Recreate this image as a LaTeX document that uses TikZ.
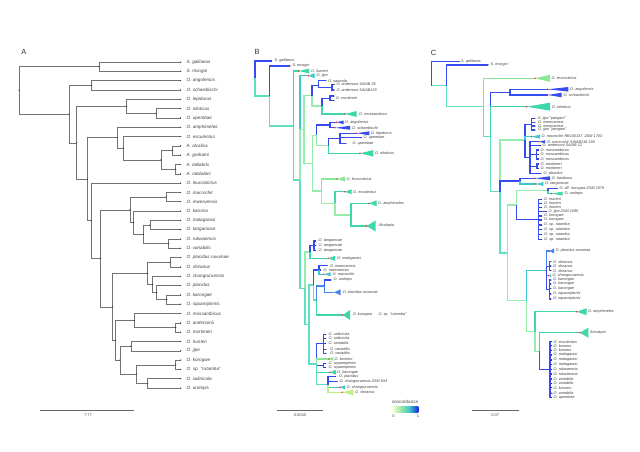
\documentclass[tikz,border=0pt]{standalone}
\usepackage{fontspec}
\setmainfont{Liberation Sans}
\definecolor{cB}{RGB}{55,75,242}
\definecolor{cM}{RGB}{70,130,232}
\definecolor{cC}{RGB}{60,200,210}
\definecolor{cT}{RGB}{95,222,192}
\definecolor{cG}{RGB}{150,236,170}
\definecolor{cY}{RGB}{200,240,150}
\definecolor{triT}{RGB}{60,215,170}
\definecolor{triC}{RGB}{60,200,205}
\definecolor{triG}{RGB}{140,232,150}
\definecolor{triY}{RGB}{190,240,130}
\definecolor{rdc}{RGB}{228,60,40}
\definecolor{lg0}{RGB}{255,255,217}
\definecolor{lg1}{RGB}{160,230,170}
\definecolor{lg2}{RGB}{60,200,200}
\definecolor{lg3}{RGB}{30,40,225}
\tikzset{
 abr/.style={draw=black!55, line width=0.45pt},
 br/.style={line width=1.1pt},
 la/.style={anchor=west, inner sep=0pt, font=\fontsize{4.6}{5}\selectfont\itshape, text=black!75},
 lb/.style={anchor=west, inner sep=0pt, font=\fontsize{3.8}{4}\selectfont\itshape, text=black!75},
 reddot/.style={fill=rdc},
 tipdot/.style={fill=black!85},
 panel/.style={font=\fontsize{7.5}{8}\selectfont, text=black!80, inner sep=0pt},
 sc/.style={draw=black!60, line width=0.6pt},
 scl/.style={font=\fontsize{4}{4}\selectfont, text=black!70, inner sep=0pt},
}
% internal node: color, parent, name, x, y
\newcommand\Inode[5]{\coordinate (#3) at (#4,#5); \draw[br,draw=#1] (#2) |- (#3);}
% tip without label
\newcommand\Tip[5]{\coordinate (#3) at (#4,#5); \draw[br,draw=#1] (#2) |- (#3); \fill[tipdot] (#3) circle (0.5pt);}
% leaf: color, parent, name, x, y, labelx, text
\newcommand\Leaf[7]{\Tip{#1}{#2}{#3}{#4}{#5}\node[lb] (#3l) at (#6,#5) {#7};}
% collapsed clade: color, parent, name, x, y, x2, halfheight, labelx, text
\newcommand\Clade[9]{\coordinate (#3) at (#4,#5); \draw[br,draw=#1] (#2) |- (#3);
 \fill[#1] (#3) -- (#6,{#5-#7}) -- (#6,{#5+#7}) -- cycle;
 \fill[reddot] (#3) circle (0.85pt);
 \node[lb] (#3l) at (#8,#5) {#9};}
\newcommand\CladeN[9]{\coordinate (#3) at (#4,#5); \draw[br,draw=#1] (#2) |- (#3);
 \fill[#1] (#3) -- (#6,{#5-#7}) -- (#6,{#5+#7}) -- cycle;
 \node[lb] (#3l) at (#8,#5) {#9};}
\begin{document}
\begin{tikzpicture}[x=1pt,y=-1pt]
\fill[white] (0,0) rectangle (640,452);
\useasboundingbox (0,0) rectangle (640,452);

% ================= Panel A =================
\node[panel] (pA) at (24,52) {A};
\foreach \nm [count=\i] in {S. galilaeus, S. mvogoi, O. angolensis, O. schwebischi, O. lepidurus, O. niloticus, O. upembae, O. amphimelas, O. esculentus, A. alcalica, A. grahami, A. latilabris, A. ndalalani, O. leucostictus, O. macrochir, O. mweruensis, O. karomo, O. malagarasi, O. tanganicae, O. rukwaensis, O. variabilis, O. placidus ruvumae, O. shiranus, O. chungruruensis, O. placidus, O. karongae, O. squamipinnis, O. mossambicus, O. andersonii, O. mortimeri, O. hunteri, O. jipe, O. korogwe, O. sp. "rutamba", O. salinicola, O. urolepis} {
  \coordinate (at\i) at (180.7,{62+(\i-1)*9.314});
  \node[la] (al\i) at (186.5,{62+(\i-1)*9.314}) {\nm};
}
\coordinate (aroot) at (19,90.3);
\coordinate (asg) at (99,66.65);
\coordinate (ao) at (69,114);
\coordinate (aans) at (91.7,85.25);
\coordinate (ax) at (76.7,142.75);
\coordinate (alep) at (126.7,106.3);
\coordinate (anu) at (156,113.25);
\coordinate (ay) at (87.3,179.2);
\coordinate (aamp) at (117.3,137.7);
\coordinate (aesc) at (123.3,148.15);
\coordinate (aalc) at (161,159.8);
\coordinate (aag) at (172.7,150.45);
\coordinate (aln) at (175.7,169.15);
\coordinate (alb) at (91,220.7);
\coordinate (abig) at (100.7,258.3);
\coordinate (amk) at (130,209.85);
\coordinate (amm) at (166,197.05);
\coordinate (akr) at (133.3,222.65);
\coordinate (amr) at (143.3,234.3);
\coordinate (amt) at (150,225);
\coordinate (arv) at (168.7,243.65);
\coordinate (apm) at (112.7,306.8);
\coordinate (apr) at (147.3,273.3);
\coordinate (aps) at (170,262.25);
\coordinate (acp) at (152.7,284.35);
\coordinate (apk) at (156.7,292.5);
\coordinate (aks) at (166.7,299.55);
\coordinate (amh) at (115.3,340.3);
\coordinate (amo) at (134.3,320.5);
\coordinate (aam) at (175.7,327.45);
\coordinate (ahk) at (120,360.05);
\coordinate (ahj) at (131,346.05);
\coordinate (akl) at (136.7,374.05);
\coordinate (akru) at (175.7,364.75);
\coordinate (asu) at (147.7,383.35);
\foreach \p/\c in {aroot/asg, aroot/ao, asg/at1, asg/at2, ao/aans, ao/ax, aans/at3, aans/at4, ax/alep, ax/ay, alep/at5, alep/anu, anu/at6, anu/at7, ay/aamp, ay/alb, aamp/at8, aamp/aesc, aesc/at9, aesc/aalc, aalc/aag, aalc/aln, aag/at10, aag/at11, aln/at12, aln/at13, alb/at14, alb/abig, abig/amk, abig/apm, amk/amm, amk/akr, amm/at15, amm/at16, akr/at17, akr/amr, amr/amt, amr/arv, amt/at18, amt/at19, arv/at20, arv/at21, apm/apr, apm/amh, apr/aps, apr/acp, aps/at22, aps/at23, acp/at24, acp/apk, apk/at25, apk/aks, aks/at26, aks/at27, amh/amo, amh/ahk, amo/at28, amo/aam, aam/at29, aam/at30, ahk/ahj, ahk/akl, ahj/at31, ahj/at32, akl/akru, akl/asu, akru/at33, akru/at34, asu/at35, asu/at36}
  {\draw[abr] (\p) |- (\c);}
\foreach \c in {aroot,asg,ao,aans,ax,alep,anu,ay,aamp,aesc,aalc,aag,aln,alb,abig,amk,amm,akr,amr,amt,arv,apm,apr,aps,acp,apk,aks,amh,amo,aam,ahk,ahj,akl,akru,asu}
  {\fill[black!80] (\c) circle (0.65pt);}
\foreach \i in {1,...,36} {\fill[black!80] (at\i) circle (0.65pt);}
\coordinate (asc1) at (40,410.5);
\coordinate (asc2) at (134.3,410.5);
\draw[sc] (asc1) -- (asc2);
\node[scl] (ascl) at (88,415.5) {7.77};

% ================= Panel B =================
\node[panel] (pB) at (257,52) {B};
\coordinate (bR) at (255,78.5);
\Leaf{cB}{bR}{bgal}{271.7}{61}{274.5}{S. galilaeus}
\Inode{cT}{bR}{bN2}{269.3}{96}
\Leaf{cB}{bN2}{bmvo}{290}{66}{292.3}{S. mvogoi}
\Inode{cT}{bN2}{bO}{293.3}{126}
\Clade{triT}{bO}{bhun}{299}{71}{309}{2.5}{311}{O. hunteri}
\Inode{cT}{bO}{bN1}{300}{180}
\Clade{triC}{bN1}{bjip}{308.5}{75.7}{314.5}{2.5}{316.5}{O. jipe}
\Inode{cG}{bN1}{bNb}{304}{129.4}
\Inode{cG}{bNb}{bNsm}{312}{95.6}
\Inode{cB}{bNsm}{bNsx}{318.3}{85.3}
\Leaf{cB}{bNsx}{bsax}{326}{80.7}{328}{O. saxicola}
\Inode{cB}{bNsx}{bNand}{332}{87.1}
\Leaf{cB}{bNand}{band1}{334.3}{84.3}{336.3}{O. andersoni SAIAB 05}
\Leaf{cB}{bNand}{band2}{334.3}{90}{336.3}{O. andersoni SAIAB133}
\Inode{cG}{bNsm}{bNsm2}{322}{106}
\Inode{cB}{bNsm2}{bNmor}{330}{98.3}
\Tip{cB}{bNmor}{bmor1}{334}{96}
\Tip{cB}{bNmor}{bmor2}{334}{100.6}
\node[lb] (bmorl) at (336,98.3) {O. mortimeri};
\Clade{triT}{bNsm2}{bmos}{345}{114}{356.7}{3}{359}{O. mossambicus}
\Inode{cG}{bNb}{bNl1}{312.7}{163.2}
\Inode{cG}{bNl1}{bNang}{316.7}{135.4}
\Inode{cB}{bNang}{bNas}{330}{125}
\Clade{cB}{bNas}{bang}{336.7}{122.3}{343.5}{1.8}{345}{O. angolensis}
\Clade{cB}{bNas}{bsch}{335}{127.8}{350}{2}{352}{O. schwebischi}
\Inode{cG}{bNang}{bNnil}{328.3}{145.8}
\Inode{cB}{bNnil}{bNlep}{340}{138.3}
\Clade{cB}{bNlep}{blep}{356.7}{133.3}{369.3}{2}{371}{O. lepidurus}
\Leaf{cB}{bNlep}{bup1}{361.7}{137.7}{363.5}{O. upembae}
\Leaf{cB}{bNlep}{bup2}{346}{143.3}{352.5}{O. upembae}
\Clade{triT}{bNnil}{bnil}{360}{153.3}{373.3}{3.3}{375}{O. niloticus}
\Inode{cG}{bNl1}{bNleu}{321.7}{191}
\Clade{triG}{bNleu}{bleu}{337.3}{179}{345}{2.5}{346.5}{O. leucostictus}
\Inode{cG}{bNleu}{bNesc}{335}{203.3}
\Clade{triT}{bNesc}{besc}{344.7}{191.7}{351.7}{2.5}{353}{O. esculentus}
\Inode{cG}{bNesc}{bNamph}{351}{215}
\Clade{triT}{bNamph}{bamp}{369.3}{203.3}{376.7}{3}{378}{O. amphimelas}
\Clade{triT}{bNamph}{balc}{366.7}{226}{375.7}{5.5}{378.3}{Alcolapia}
\Inode{cT}{bN1}{bN3}{305}{288.3}
\Inode{cG}{bN3}{bNtang}{310}{252}
\Inode{cB}{bNtang}{bNtg}{314}{245.9}
\Leaf{cB}{bNtg}{btg1}{315.7}{241}{318.5}{O. tanganicae}
\Leaf{cB}{bNtg}{btg2}{315.7}{245.7}{318.5}{O. tanganicae}
\Leaf{cB}{bNtg}{btg3}{315.7}{250.7}{318.5}{O. tanganicae}
\Clade{triT}{bNtang}{bmal}{328.3}{258.3}{335}{2.5}{337}{O. malagarasi}
\Inode{cT}{bN3}{bNl2}{309}{324.5}
\Inode{cT}{bNl2}{bNmid}{313.3}{285}
\Inode{cB}{bNmid}{bNmwe}{319}{270}
\Leaf{cB}{bNmwe}{bmw1}{327.3}{265.7}{330}{O. mweruensis}
\Leaf{cB}{bNmwe}{bmw2}{320.7}{270}{323.5}{O. mweruensis}
\Clade{triC}{bNmwe}{bmac}{324}{274.3}{330.7}{2}{332.5}{O. macrochir}
\Inode{cT}{bNmid}{bNkr}{316.7}{300}
\Inode{cM}{bNkr}{bNuro}{324.3}{286}
\Leaf{cB}{bNuro}{buro}{331}{280}{333.5}{O. urolepis}
\CladeN{cM}{bNuro}{bprv}{334}{292.3}{340.7}{3}{342.7}{O. placidus ruvumae}
\Clade{triT}{bNkr}{bkor}{342.7}{315}{350}{5}{352.7}{O. korogwe}
\node[lb] (bkorl2) at (378.3,315) {O. sp. "rutamba"};
\Inode{cT}{bNl2}{bNbot}{316.7}{364}
\Inode{cB}{bNbot}{bNsal}{323.3}{343.8}
\Leaf{cB}{bNsal}{bsa1}{325.5}{334.3}{328.5}{O. salinicola}
\Leaf{cB}{bNsal}{bsa2}{325.5}{338.3}{328.5}{O. salinicola}
\Leaf{cB}{bNsal}{bva1}{325.5}{343.3}{328.5}{O. variabilis}
\Leaf{cB}{bNsal}{bva2}{326}{349.3}{330}{O. variabilis}
\Leaf{cB}{bNsal}{bva3}{326}{353.3}{330}{O. variabilis}
\Clade{triG}{bNbot}{bkar}{329}{359}{333.3}{2}{334.5}{O. karomo}
\Inode{cB}{bNbot}{bNsq}{323.3}{365.5}
\Leaf{cB}{bNsq}{bsq1}{325.5}{363.3}{328.5}{O. squamipinnis}
\Leaf{cB}{bNsq}{bsq2}{325.5}{367.7}{328.5}{O. squamipinnis}
\Clade{triT}{bNbot}{bkrg}{330}{372.3}{336}{2.5}{337}{O. karongae}
\Inode{cT}{bNbot}{bNpl}{328}{384.5}
\Leaf{cB}{bNpl}{bpla}{335.7}{376.7}{339}{O. placidus}
\Leaf{cB}{bNpl}{bchz}{337.3}{381.7}{339.5}{O. chungruruensis ZSM 934}
\Clade{triC}{bNpl}{bchu}{340}{387.3}{345}{2}{346.5}{O. chungruruensis}
\Clade{triY}{bNpl}{bshi}{342.3}{392.3}{353.3}{3}{355}{O. shiranus}
\coordinate (bsc1) at (276.7,410.5);
\coordinate (bsc2) at (322.7,410.5);
\draw[sc] (bsc1) -- (bsc2);
\node[scl] (bscl) at (300,415.5) {0.0040};
% legend
\node[scl, font=\fontsize{4.6}{5}\selectfont] (legt) at (405,401.5) {concordance};
\shade[left color=lg0, right color=lg1] (391.7,406) rectangle (400.6,412.7);
\shade[left color=lg1, right color=lg2] (400.5,406) rectangle (409.5,412.7);
\shade[left color=lg2, right color=lg3] (409.4,406) rectangle (418.3,412.7);
\node[scl] (leg0) at (393.5,415.8) {0};
\node[scl] (leg1) at (418,415.8) {1};

% ================= Panel C =================
\node[panel] (pC) at (433.5,52.5) {C};
\coordinate (cR) at (431.7,85.8);
\Leaf{cB}{cR}{cgal}{459.3}{61.7}{461}{S. galilaeus}
\Inode{cT}{cR}{cN2}{446.7}{85.8}
\Leaf{cB}{cN2}{cmvo}{488.3}{65}{490.5}{S. mvogoi}
\Inode{cT}{cN2}{cO}{483.3}{106.7}
\Clade{triG}{cO}{cleu}{535}{78.3}{550}{3.5}{551.5}{O. leucostictus}
\Inode{cT}{cO}{cN1}{490.7}{136.7}
\Inode{cB}{cN1}{cNas}{510}{92.2}
\Clade{cB}{cNas}{cang}{547.7}{89.3}{568.3}{2.3}{570}{O. angolensis}
\Clade{cB}{cNas}{csch}{547.7}{95}{561.7}{2.3}{563.5}{O. schwebischi}
\Clade{triT}{cN1}{cnil}{526.7}{106.7}{550}{4}{551.7}{O. niloticus}
\Inode{cT}{cN1}{cNb}{500}{191.7}
\Inode{cG}{cNb}{cNpan}{525}{140}
\Inode{cB}{cNpan}{cPg}{531.7}{124.2}
\Leaf{cB}{cPg}{cjp1}{535}{118.3}{537.5}{O. jipe "pangani"}
\Leaf{cB}{cPg}{cmw1}{535}{122.3}{538}{O. mweruensis}
\Leaf{cB}{cPg}{cmw2}{535}{126}{538}{O. mweruensis}
\Leaf{cB}{cPg}{cjp2}{535}{130}{538}{O. jipe "pangani"}
\Clade{triC}{cNpan}{cmrb}{531.7}{136.6}{540}{2}{541.5}{O. macrochir RB100137, ZSM 1703}
\Inode{cB}{cNpan}{cMos}{530}{157.5}
\Clade{cB}{cMos}{cmsa}{539}{141.7}{545}{1.5}{547}{O. macrochir SAIAB136.190}
\Leaf{cB}{cMos}{cand}{540.7}{145.6}{542.5}{O. andersoni SAIAB 12}
\Inode{cB}{cMos}{cMsb}{536.7}{154.5}
\Leaf{cB}{cMsb}{cms1}{538.5}{150}{540.5}{O. mossambicus}
\Leaf{cB}{cMsb}{cms2}{538.5}{154.3}{540.5}{O. mossambicus}
\Leaf{cB}{cMsb}{cms3}{538.5}{159}{540.5}{O. mossambicus}
\Inode{cB}{cMos}{cMrt}{537}{166.2}
\Leaf{cB}{cMrt}{cmo1}{538.5}{164}{540.5}{O. mortimeri}
\Leaf{cB}{cMrt}{cmo2}{538.5}{168.3}{540.5}{O. mortimeri}
\Leaf{cB}{cMos}{cpla}{541}{173.3}{543.5}{O. placidus}
\Inode{cB}{cNb}{cLep}{520}{181}
\Clade{cB}{cLep}{clep}{535}{178.3}{550}{2}{551.7}{O. lepidurus}
\Clade{triC}{cLep}{ctan}{536}{184}{543.3}{2}{545}{O. tanganicae}
\Inode{cT}{cNb}{cN4}{507.3}{253}
\Inode{cG}{cN4}{cHu}{516.7}{205}
\Inode{cG}{cHu}{cUr}{548}{190.8}
\Leaf{cB}{cUr}{caff}{557.3}{188.3}{559.3}{O. aff. korogwe ZSM 1079}
\Clade{triT}{cUr}{curo}{551.7}{193.6}{562.7}{2}{564.5}{O. urolepis}
\Inode{cB}{cHu}{cHg}{538.3}{219.3}
\Leaf{cB}{cHg}{chu1}{541.7}{199.3}{544}{O. hunteri}
\Leaf{cB}{cHg}{chu2}{541.7}{203.3}{544}{O. hunteri}
\Leaf{cB}{cHg}{chu3}{541.7}{207.3}{544}{O. hunteri}
\Leaf{cB}{cHg}{cjz}{546.7}{211.7}{548.5}{O. jipe ZSM 1095}
\Leaf{cB}{cHg}{cko1}{541.7}{216}{544}{O. korogwe}
\Leaf{cB}{cHg}{cko2}{541.7}{220}{544}{O. korogwe}
\Leaf{cB}{cHg}{cru1}{541.7}{225}{544}{O. sp. rutamba}
\Leaf{cB}{cHg}{cru2}{541.7}{229.3}{544}{O. sp. rutamba}
\Leaf{cB}{cHg}{cru3}{541.7}{234.3}{544}{O. sp. rutamba}
\Leaf{cB}{cHg}{cru4}{541.7}{239.3}{544}{O. sp. rutamba}
\Inode{cG}{cN4}{cLow}{526.7}{300.9}
\Inode{cC}{cLow}{cPr}{546.7}{270.3}
\CladeN{cM}{cPr}{cprv}{549.5}{251}{554}{2.5}{555.5}{O. placidus ruvumae}
\Inode{cB}{cPr}{cShi}{549.3}{266.1}
\Leaf{cB}{cShi}{csh1}{551}{261.7}{553}{O. shiranus}
\Leaf{cB}{cShi}{csh2}{551}{266}{553}{O. shiranus}
\Leaf{cB}{cShi}{csh3}{551}{270.7}{553}{O. shiranus}
\Clade{triC}{cPr}{cchu}{548.3}{275.6}{551}{1.5}{552.5}{O. chungruruensis}
\Inode{cB}{cPr}{cKs}{549.3}{289.5}
\Leaf{cB}{cKs}{ckr1}{551}{280}{553}{O. karongae}
\Leaf{cB}{cKs}{ckr2}{551}{284}{553}{O. karongae}
\Leaf{cB}{cKs}{ckr3}{551}{288.7}{553}{O. karongae}
\Leaf{cB}{cKs}{csq1}{551}{294}{553}{O. squamipinnis}
\Leaf{cB}{cKs}{csq2}{551}{299}{553}{O. squamipinnis}
\Inode{cG}{cLow}{cAm}{535}{331.5}
\Clade{triT}{cAm}{camp}{576.7}{311.7}{586.7}{3.5}{588}{O. amphimelas}
\Inode{cG}{cAm}{cAl}{539.3}{351.2}
\Clade{triT}{cAl}{calc}{580}{332.7}{588.3}{5}{590}{Alcolapia}
\Inode{cB}{cAl}{cEs}{550}{369.7}
\Leaf{cB}{cEs}{ce1}{551.7}{341.7}{553.5}{O. esculentus}
\Leaf{cB}{cEs}{ce2}{551.7}{345.9}{553.5}{O. karomo}
\Leaf{cB}{cEs}{ce3}{551.7}{350.1}{553.5}{O. karomo}
\Leaf{cB}{cEs}{ce4}{551.7}{355}{553.5}{O. malagarasi}
\Leaf{cB}{cEs}{ce5}{551.7}{360}{553.5}{O. malagarasi}
\Leaf{cB}{cEs}{ce6}{551.7}{364.3}{553.5}{O. malagarasi}
\Leaf{cB}{cEs}{ce7}{551.7}{369.3}{553.5}{O. rukwaensis}
\Leaf{cB}{cEs}{ce8}{551.7}{374}{553.5}{O. rukwaensis}
\Leaf{cB}{cEs}{ce9}{551.7}{379}{553.5}{O. variabilis}
\Leaf{cB}{cEs}{ce10}{551.7}{383.3}{553.5}{O. variabilis}
\Leaf{cB}{cEs}{ce11}{551.7}{387.7}{553.5}{O. karomo}
\Leaf{cB}{cEs}{ce12}{551.7}{393.3}{553.5}{O. variabilis}
\Leaf{cB}{cEs}{ce13}{551.7}{397.7}{553.5}{O. upembae}
\fill[reddot] (ce12) circle (0.85pt);
\coordinate (csc1) at (471.7,410.5);
\coordinate (csc2) at (519,410.5);
\draw[sc] (csc1) -- (csc2);
\node[scl] (cscl) at (495.3,415.5) {0.07};
\end{tikzpicture}
\end{document}
